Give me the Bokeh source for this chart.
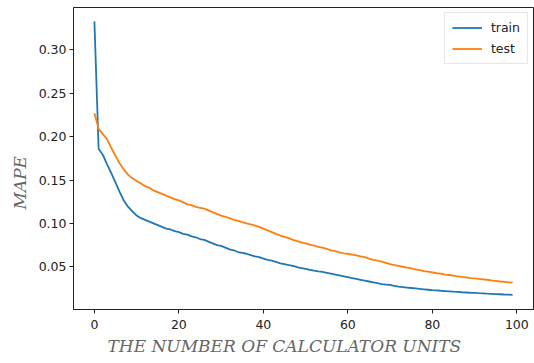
from bokeh.plotting import figure
from bokeh.models import FixedTicker, PrintfTickFormatter, Range1d, Legend, LegendItem, Title
from bokeh.embed import file_html
from bokeh.resources import INLINE

units = list(range(100))

train = [0.333, 0.186, 0.179, 0.168, 0.158, 0.147, 0.136, 0.126, 0.119, 0.114,
         0.109, 0.106, 0.104, 0.102, 0.100, 0.098, 0.096, 0.094, 0.093, 0.091,
         0.090, 0.088, 0.087, 0.085, 0.084, 0.082, 0.081, 0.079, 0.077, 0.075,
         0.074, 0.072, 0.070, 0.069, 0.067, 0.066, 0.065, 0.0635, 0.062, 0.061,
         0.0595, 0.058, 0.057, 0.0555, 0.054, 0.053, 0.052, 0.051, 0.0495, 0.0485,
         0.0475, 0.0465, 0.0455, 0.0447, 0.044, 0.043, 0.042, 0.041, 0.040, 0.039,
         0.038, 0.037, 0.036, 0.035, 0.034, 0.033, 0.032, 0.031, 0.030, 0.0295,
         0.029, 0.028, 0.027, 0.0265, 0.026, 0.0255, 0.025, 0.0245, 0.024, 0.0235,
         0.023, 0.0227, 0.0223, 0.022, 0.0216, 0.0212, 0.021, 0.0206, 0.0203, 0.020,
         0.0198, 0.0195, 0.0193, 0.019, 0.0188, 0.0185, 0.0183, 0.018, 0.0178, 0.0176]

test = [0.227, 0.209, 0.203, 0.197, 0.187, 0.178, 0.169, 0.162, 0.156, 0.152,
        0.149, 0.146, 0.143, 0.141, 0.138, 0.136, 0.134, 0.132, 0.130, 0.128,
        0.1265, 0.1245, 0.122, 0.121, 0.119, 0.118, 0.117, 0.115, 0.113, 0.111,
        0.109, 0.1075, 0.106, 0.104, 0.103, 0.1015, 0.100, 0.099, 0.0975, 0.096,
        0.094, 0.092, 0.090, 0.088, 0.086, 0.0845, 0.083, 0.081, 0.0795, 0.078,
        0.077, 0.0755, 0.0745, 0.073, 0.072, 0.0705, 0.069, 0.068, 0.0665, 0.0655,
        0.065, 0.064, 0.063, 0.062, 0.061, 0.0595, 0.058, 0.057, 0.0558, 0.0545,
        0.053, 0.052, 0.051, 0.050, 0.049, 0.048, 0.047, 0.046, 0.045, 0.0445,
        0.0435, 0.0425, 0.042, 0.041, 0.0405, 0.0398, 0.039, 0.0383, 0.0377, 0.037,
        0.0365, 0.036, 0.0355, 0.035, 0.0343, 0.0337, 0.033, 0.0325, 0.032, 0.032]

x_ticks = [0, 20, 40, 60, 80, 100]
y_ticks = [0.05, 0.10, 0.15, 0.20, 0.25, 0.30]
x_label = "THE NUMBER OF CALCULATOR UNITS"
y_label = "MAPE"

p = figure(width=534, height=363, output_backend="svg", toolbar_location=None,
           x_range=Range1d(-4.95, 103.95), y_range=Range1d(0.0007, 0.349),
           min_border_left=73, min_border_right=1, min_border_top=7, min_border_bottom=54)

r1 = p.line(units, train, line_color="#1f77b4", line_width=1.8)
r2 = p.line(units, test, line_color="#ff7f0e", line_width=1.8)

p.grid.visible = False
p.outline_line_color = "#222222"
p.outline_line_width = 1
p.background_fill_color = "white"
p.border_fill_color = "white"

for ax in (p.xaxis[0], p.yaxis[0]):
    ax.axis_line_color = "#222222"
    ax.major_tick_line_color = "#222222"
    ax.major_tick_out = 4
    ax.major_tick_in = 0
    ax.minor_tick_out = 0
    ax.minor_tick_in = 0
    ax.major_label_text_font = "DejaVu Sans"
    ax.major_label_text_font_size = "12.5px"
    ax.major_label_text_color = "#222222"

p.xaxis[0].ticker = FixedTicker(ticks=x_ticks)
p.yaxis[0].ticker = FixedTicker(ticks=y_ticks)
p.xaxis[0].formatter = PrintfTickFormatter(format="%d")
p.yaxis[0].formatter = PrintfTickFormatter(format="%.2f")
p.xaxis[0].major_label_standoff = 6
p.yaxis[0].major_label_standoff = 3

# axis titles in side panels, shifted as in the reference
xt = Title(text=x_label, align="left", offset=34, standoff=4,
           text_font="DejaVu Serif", text_font_style="italic", text_font_size="17px",
           text_color="#666666")
yt = Title(text=y_label, align="left", offset=100, standoff=11,
           text_font="DejaVu Serif", text_font_style="italic", text_font_size="17px",
           text_color="#666666")
p.add_layout(xt, "below")
p.add_layout(yt, "left")

legend = Legend(items=[LegendItem(label="train", renderers=[r1]),
                       LegendItem(label="test", renderers=[r2])],
                location="top_right")
legend.label_text_font = "DejaVu Sans"
legend.label_text_font_size = "12.5px"
legend.label_text_color = "#222222"
legend.border_line_color = "#cccccc"
legend.border_line_width = 1
legend.glyph_width = 30
legend.glyph_height = 15
legend.label_height = 15
legend.spacing = 6
legend.padding = 7
legend.margin = 5
legend.label_standoff = 9
p.add_layout(legend)

open("out.html", "w").write(file_html(p, INLINE))
